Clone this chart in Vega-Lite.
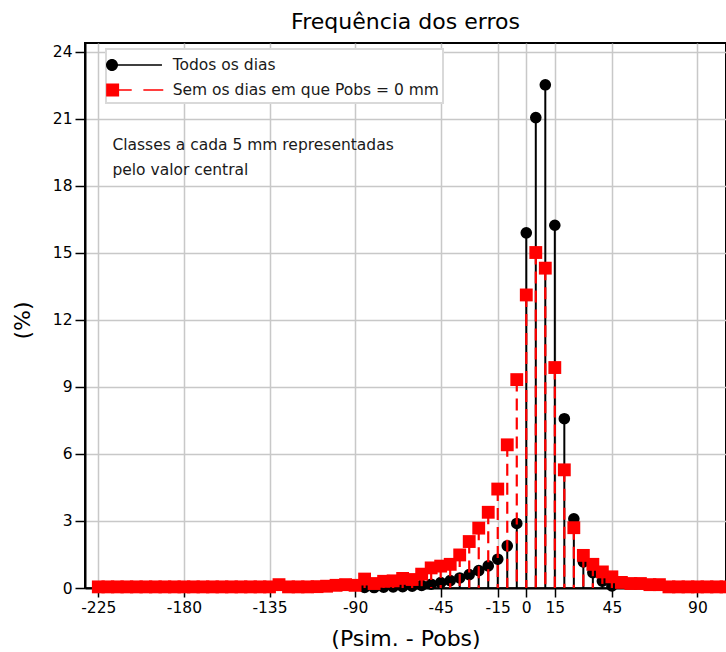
{
  "$schema": "https://vega.github.io/schema/vega-lite/v6.json",
  "width": 641,
  "height": 545,
  "autosize": {"type": "none"},
  "padding": {"left": 85, "top": 43, "right": 0, "bottom": 64},
  "background": "white",
  "config": {
    "font": "DejaVu Sans",
    "view": {"stroke": "black", "strokeWidth": 2},
    "legend": {"strokeWidth": 2}
  },
  "title": {
    "text": "Frequência dos erros",
    "fontSize": 22,
    "fontWeight": "normal",
    "color": "black",
    "offset": 14,
    "dy": 22,
    "baseline": "alphabetic",
    "anchor": "middle",
    "font": "DejaVu Sans"
  },
  "data": {
    "values": [
      {"x": -225, "serie": "Sem os dias em que Pobs = 0 mm", "pct": 0.05},
      {"x": -220, "serie": "Sem os dias em que Pobs = 0 mm", "pct": 0.05},
      {"x": -215, "serie": "Sem os dias em que Pobs = 0 mm", "pct": 0.05},
      {"x": -210, "serie": "Sem os dias em que Pobs = 0 mm", "pct": 0.05},
      {"x": -205, "serie": "Sem os dias em que Pobs = 0 mm", "pct": 0.05},
      {"x": -200, "serie": "Sem os dias em que Pobs = 0 mm", "pct": 0.05},
      {"x": -195, "serie": "Sem os dias em que Pobs = 0 mm", "pct": 0.05},
      {"x": -190, "serie": "Sem os dias em que Pobs = 0 mm", "pct": 0.05},
      {"x": -185, "serie": "Sem os dias em que Pobs = 0 mm", "pct": 0.05},
      {"x": -180, "serie": "Sem os dias em que Pobs = 0 mm", "pct": 0.05},
      {"x": -175, "serie": "Sem os dias em que Pobs = 0 mm", "pct": 0.05},
      {"x": -170, "serie": "Sem os dias em que Pobs = 0 mm", "pct": 0.05},
      {"x": -165, "serie": "Sem os dias em que Pobs = 0 mm", "pct": 0.05},
      {"x": -160, "serie": "Sem os dias em que Pobs = 0 mm", "pct": 0.05},
      {"x": -155, "serie": "Sem os dias em que Pobs = 0 mm", "pct": 0.05},
      {"x": -150, "serie": "Sem os dias em que Pobs = 0 mm", "pct": 0.05},
      {"x": -145, "serie": "Sem os dias em que Pobs = 0 mm", "pct": 0.05},
      {"x": -140, "serie": "Sem os dias em que Pobs = 0 mm", "pct": 0.05},
      {"x": -135, "serie": "Sem os dias em que Pobs = 0 mm", "pct": 0.05},
      {"x": -130, "serie": "Sem os dias em que Pobs = 0 mm", "pct": 0.15},
      {"x": -125, "serie": "Sem os dias em que Pobs = 0 mm", "pct": 0.05},
      {"x": -120, "serie": "Sem os dias em que Pobs = 0 mm", "pct": 0.05},
      {"x": -115, "serie": "Sem os dias em que Pobs = 0 mm", "pct": 0.05},
      {"x": -110, "serie": "Sem os dias em que Pobs = 0 mm", "pct": 0.06},
      {"x": -105, "serie": "Sem os dias em que Pobs = 0 mm", "pct": 0.08},
      {"x": -100, "serie": "Sem os dias em que Pobs = 0 mm", "pct": 0.12},
      {"x": -95, "serie": "Sem os dias em que Pobs = 0 mm", "pct": 0.15},
      {"x": -90, "serie": "Sem os dias em que Pobs = 0 mm", "pct": 0.12},
      {"x": -85, "serie": "Sem os dias em que Pobs = 0 mm", "pct": 0.4},
      {"x": -80, "serie": "Sem os dias em que Pobs = 0 mm", "pct": 0.2},
      {"x": -75, "serie": "Sem os dias em que Pobs = 0 mm", "pct": 0.3},
      {"x": -70, "serie": "Sem os dias em que Pobs = 0 mm", "pct": 0.32},
      {"x": -65, "serie": "Sem os dias em que Pobs = 0 mm", "pct": 0.43},
      {"x": -60, "serie": "Sem os dias em que Pobs = 0 mm", "pct": 0.38},
      {"x": -55, "serie": "Sem os dias em que Pobs = 0 mm", "pct": 0.62},
      {"x": -50, "serie": "Sem os dias em que Pobs = 0 mm", "pct": 0.9},
      {"x": -45, "serie": "Sem os dias em que Pobs = 0 mm", "pct": 0.98},
      {"x": -40, "serie": "Sem os dias em que Pobs = 0 mm", "pct": 1.06},
      {"x": -35, "serie": "Sem os dias em que Pobs = 0 mm", "pct": 1.48},
      {"x": -30, "serie": "Sem os dias em que Pobs = 0 mm", "pct": 2.08},
      {"x": -25, "serie": "Sem os dias em que Pobs = 0 mm", "pct": 2.68},
      {"x": -20, "serie": "Sem os dias em que Pobs = 0 mm", "pct": 3.39},
      {"x": -15, "serie": "Sem os dias em que Pobs = 0 mm", "pct": 4.43},
      {"x": -10, "serie": "Sem os dias em que Pobs = 0 mm", "pct": 6.41},
      {"x": -5, "serie": "Sem os dias em que Pobs = 0 mm", "pct": 9.33},
      {"x": 0, "serie": "Sem os dias em que Pobs = 0 mm", "pct": 13.12},
      {"x": 5, "serie": "Sem os dias em que Pobs = 0 mm", "pct": 15.02},
      {"x": 10, "serie": "Sem os dias em que Pobs = 0 mm", "pct": 14.32},
      {"x": 15, "serie": "Sem os dias em que Pobs = 0 mm", "pct": 9.87},
      {"x": 20, "serie": "Sem os dias em que Pobs = 0 mm", "pct": 5.29},
      {"x": 25, "serie": "Sem os dias em que Pobs = 0 mm", "pct": 2.7},
      {"x": 30, "serie": "Sem os dias em que Pobs = 0 mm", "pct": 1.46},
      {"x": 35, "serie": "Sem os dias em que Pobs = 0 mm", "pct": 1.06},
      {"x": 40, "serie": "Sem os dias em que Pobs = 0 mm", "pct": 0.72},
      {"x": 45, "serie": "Sem os dias em que Pobs = 0 mm", "pct": 0.5},
      {"x": 50, "serie": "Sem os dias em que Pobs = 0 mm", "pct": 0.25},
      {"x": 55, "serie": "Sem os dias em que Pobs = 0 mm", "pct": 0.2},
      {"x": 60, "serie": "Sem os dias em que Pobs = 0 mm", "pct": 0.2},
      {"x": 65, "serie": "Sem os dias em que Pobs = 0 mm", "pct": 0.15},
      {"x": 70, "serie": "Sem os dias em que Pobs = 0 mm", "pct": 0.15},
      {"x": 75, "serie": "Sem os dias em que Pobs = 0 mm", "pct": 0.05},
      {"x": 80, "serie": "Sem os dias em que Pobs = 0 mm", "pct": 0.05},
      {"x": 85, "serie": "Sem os dias em que Pobs = 0 mm", "pct": 0.05},
      {"x": 90, "serie": "Sem os dias em que Pobs = 0 mm", "pct": 0.05},
      {"x": 95, "serie": "Sem os dias em que Pobs = 0 mm", "pct": 0.05},
      {"x": 100, "serie": "Sem os dias em que Pobs = 0 mm", "pct": 0.05},
      {"x": 105, "serie": "Sem os dias em que Pobs = 0 mm", "pct": 0.05},
      {"x": -85, "serie": "Todos os dias", "pct": 0.03},
      {"x": -80, "serie": "Todos os dias", "pct": 0.02},
      {"x": -75, "serie": "Todos os dias", "pct": 0.04},
      {"x": -70, "serie": "Todos os dias", "pct": 0.05},
      {"x": -65, "serie": "Todos os dias", "pct": 0.06},
      {"x": -60, "serie": "Todos os dias", "pct": 0.08},
      {"x": -55, "serie": "Todos os dias", "pct": 0.12},
      {"x": -50, "serie": "Todos os dias", "pct": 0.17},
      {"x": -45, "serie": "Todos os dias", "pct": 0.24},
      {"x": -40, "serie": "Todos os dias", "pct": 0.33},
      {"x": -35, "serie": "Todos os dias", "pct": 0.45},
      {"x": -30, "serie": "Todos os dias", "pct": 0.6},
      {"x": -25, "serie": "Todos os dias", "pct": 0.78},
      {"x": -20, "serie": "Todos os dias", "pct": 0.99},
      {"x": -15, "serie": "Todos os dias", "pct": 1.29},
      {"x": -10, "serie": "Todos os dias", "pct": 1.89},
      {"x": -5, "serie": "Todos os dias", "pct": 2.89},
      {"x": 0, "serie": "Todos os dias", "pct": 15.9},
      {"x": 5, "serie": "Todos os dias", "pct": 21.06},
      {"x": 10, "serie": "Todos os dias", "pct": 22.53},
      {"x": 15, "serie": "Todos os dias", "pct": 16.24},
      {"x": 20, "serie": "Todos os dias", "pct": 7.58},
      {"x": 25, "serie": "Todos os dias", "pct": 3.1},
      {"x": 30, "serie": "Todos os dias", "pct": 1.17},
      {"x": 35, "serie": "Todos os dias", "pct": 0.69},
      {"x": 40, "serie": "Todos os dias", "pct": 0.31},
      {"x": 45, "serie": "Todos os dias", "pct": 0.09}
    ]
  },
  "encoding": {
    "x": {
      "field": "x",
      "type": "quantitative",
      "scale": {"domain": [-232, 105], "nice": false, "zero": false},
      "axis": {
        "values": [-225, -180, -135, -90, -45, -15, 0, 15, 45, 90],
        "labelExpr": "replace(datum.label, '\u2212', '-')",
        "labelFont": "DejaVu Sans",
        "labelFontSize": 15.5,
        "labelColor": "black",
        "labelPadding": 3,
        "labelOverlap": false,
        "labelFlush": false,
        "tickSize": 9,
        "tickColor": "black",
        "tickWidth": 1.5,
        "domainColor": "black",
        "domainWidth": 2,
        "grid": true,
        "gridColor": "#c8c8c8",
        "gridWidth": 1.5,
        "title": "(Psim. - Pobs)",
        "titleFont": "DejaVu Sans",
        "titleFontSize": 22,
        "titleFontWeight": "normal",
        "titleColor": "black",
        "titleBaseline": "alphabetic",
        "titleY": 57
      }
    },
    "y": {
      "field": "pct",
      "type": "quantitative",
      "scale": {"domain": [0, 24.4], "nice": false},
      "axis": {
        "values": [0, 3, 6, 9, 12, 15, 18, 21, 24],
        "labelFont": "DejaVu Sans",
        "labelFontSize": 15.5,
        "labelColor": "black",
        "labelPadding": 3,
        "tickSize": 10,
        "tickColor": "black",
        "tickWidth": 1.5,
        "domainColor": "black",
        "domainWidth": 2,
        "grid": true,
        "gridColor": "#c8c8c8",
        "gridWidth": 1.5,
        "title": "(%)",
        "titleFont": "DejaVu Sans",
        "titleFontSize": 22,
        "titleFontWeight": "normal",
        "titleColor": "black",
        "titleBaseline": "middle",
        "titleAlign": "center",
        "titleX": -63,
        "titleY": 277
      }
    }
  },
  "layer": [
    {
      "transform": [{"filter": "datum.serie === 'Todos os dias'"}],
      "mark": {"type": "rule", "color": "black", "strokeWidth": 2},
      "encoding": {"y2": {"datum": 0}}
    },
    {
      "transform": [{"filter": "datum.serie === 'Todos os dias'"}],
      "mark": {"type": "point", "shape": "circle", "filled": true, "color": "black", "size": 135, "opacity": 1}
    },
    {
      "transform": [{"filter": "datum.serie !== 'Todos os dias'"}],
      "mark": {"type": "rule", "color": "#ff0000", "strokeWidth": 2.2, "strokeDash": [12, 7]},
      "encoding": {"y2": {"datum": 0}}
    },
    {
      "transform": [{"filter": "datum.serie !== 'Todos os dias'"}],
      "mark": {"type": "point", "shape": "square", "filled": true, "color": "#ff0000", "size": 165, "opacity": 1}
    },
    {
      "transform": [{"filter": "datum.x > 1000"}],
      "mark": {"type": "point", "filled": true, "opacity": 1, "size": 576},
      "encoding": {
        "color": {
          "field": "serie",
          "type": "nominal",
          "scale": {"domain": ["Todos os dias", "Sem os dias em que Pobs = 0 mm"], "range": ["black", "#ff0000"]},
          "legend": {
            "title": null,
            "orient": "none",
            "legendX": 21,
            "legendY": 6,
            "symbolSize": 576,
            "symbolOpacity": 1,
            "symbolStrokeWidth": 0,
            "labelFontSize": 15.5,
            "labelFont": "DejaVu Sans",
            "labelColor": "#1a1a1a",
            "labelOffset": 38.7,
            "labelLimit": 400,
            "rowPadding": 4,
            "padding": 4,
            "strokeColor": "#d9d9d9",
            "fillColor": "white"
          }
        },
        "shape": {
          "field": "serie",
          "type": "nominal",
          "scale": {
            "domain": ["Todos os dias", "Sem os dias em que Pobs = 0 mm"],
            "range": [
              "M-1.333,0C-1.333,-0.276,-1.109,-0.5,-0.833,-0.5C-0.557,-0.5,-0.333,-0.276,-0.333,0C-0.333,0.276,-0.557,0.5,-0.833,0.5C-1.109,0.5,-1.333,0.276,-1.333,0ZM-0.833,-0.06L3.33,-0.06L3.33,0.06L-0.833,0.06Z",
              "M-1.32,-0.54L-0.24,-0.54L-0.24,0.54L-1.32,0.54ZM-0.25,-0.07L0.81,-0.07L0.81,0.07L-0.25,0.07ZM1.78,-0.07L3.44,-0.07L3.44,0.07L1.78,0.07Z"
            ]
          }
        }
      }
    },
    {
      "transform": [{"filter": "datum.x === 0 && datum.serie === 'Todos os dias'"}],
      "mark": {"type": "text", "align": "left", "baseline": "alphabetic", "fontSize": 15.5, "font": "DejaVu Sans", "color": "#1a1a1a", "lineHeight": 25},
      "encoding": {
        "x": {"datum": -217.6},
        "y": {"datum": 19.6},
        "text": {"value": ["Classes a cada 5 mm representadas", "pelo valor central"]}
      }
    }
  ]
}
